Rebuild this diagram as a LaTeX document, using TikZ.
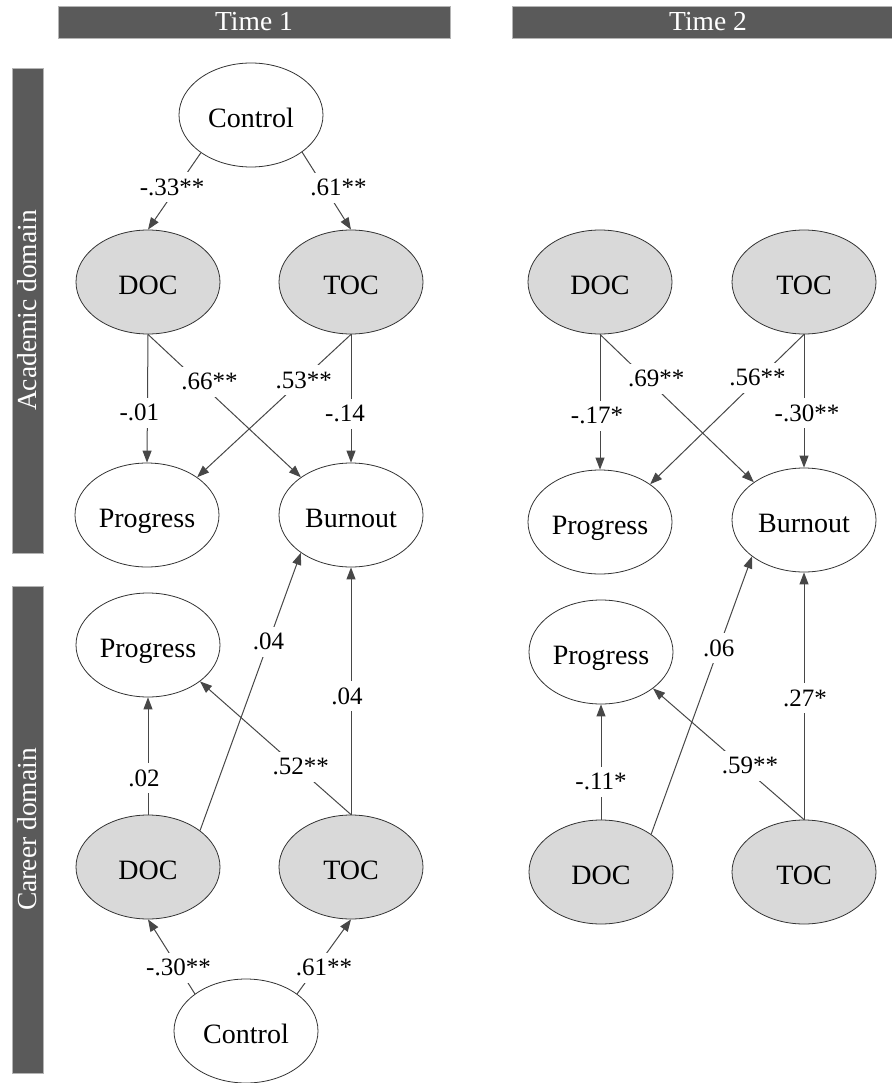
\documentclass[tikz,border=0pt]{standalone}
\usepackage{fontspec}
\setmainfont{Liberation Serif}
\usetikzlibrary{arrows.meta,shapes.geometric}
\definecolor{barfill}{HTML}{5A5A5A}
\definecolor{barline}{HTML}{B4B4B4}
\definecolor{latent}{HTML}{D9D9D9}
\definecolor{edgegray}{HTML}{474747}
\definecolor{rim}{HTML}{333333}
\begin{document}
\begin{tikzpicture}[x=1pt,y=-1pt,
  varbase/.style={ellipse, draw=rim, line width=0.8pt, minimum width=144pt,
    minimum height=104pt, inner sep=0pt, text height=25pt, text depth=0pt,
    font=\fontsize{28}{32}\selectfont},
  obsvar/.style={varbase, fill=white},
  latvar/.style={varbase, fill=latent},
  link/.style={draw=edgegray, line width=1pt, -{Triangle[length=12pt,width=9pt]}},
  coef/.style={fill=white, inner xsep=2pt, inner ysep=0pt, minimum height=30pt,
    font=\fontsize{25}{28}\selectfont},
  band/.style={fill=barfill, draw=barline, line width=0.8pt, text=white,
    inner sep=0pt, font=\fontsize{27.5}{30}\selectfont}
]
\useasboundingbox (0,0) rectangle (891,1083);

% column and row headers
\node[band, minimum width=392pt, minimum height=32pt] (head1) at (254,22) {Time 1};
\node[band, minimum width=392pt, minimum height=32pt] (head2) at (708,22) {Time 2};
\node[band, rotate=90, minimum width=485pt, minimum height=31pt] (rowacad) at (27.5,310.5) {Academic domain};
\node[band, rotate=90, minimum width=487pt, minimum height=31pt] (rowcar) at (27.5,829.5) {Career domain};

% Time 1, academic domain
\node[obsvar] (a1ctl) at (251,115) {Control};
\node[latvar] (a1doc) at (148,282) {DOC};
\node[latvar] (a1toc) at (351,282) {TOC};
\node[obsvar] (a1prog) at (147,515) {Progress};
\node[obsvar] (a1bur) at (351,515) {Burnout};

% Time 1, career domain
\node[obsvar] (c1prog) at (148,645) {Progress};
\node[latvar] (c1doc) at (148,867) {DOC};
\node[latvar] (c1toc) at (351,867) {TOC};
\node[obsvar] (c1ctl) at (246,1031) {Control};

% Time 2, academic domain
\node[latvar] (a2doc) at (600,282) {DOC};
\node[latvar] (a2toc) at (804,282) {TOC};
\node[obsvar] (a2prog) at (600,522) {Progress};
\node[obsvar] (a2bur) at (804,520) {Burnout};

% Time 2, career domain
\node[obsvar] (c2prog) at (601,652) {Progress};
\node[latvar] (c2doc) at (601,872) {DOC};
\node[latvar] (c2toc) at (804,872) {TOC};

% paths, Time 1 academic
\draw[link] (a1ctl.217) -- node[coef, pos=.45, xshift=-5pt] {-.33**} (a1doc.north);
\draw[link] (a1ctl.324) -- node[coef, pos=.46, xshift=14pt] {.61**} (a1toc.north);
\draw[link] (a1doc.south) -- node[coef, pos=.61, xshift=-8pt] {-.01} (a1prog.north);
\draw[link] (a1doc.south) -- node[coef, pos=.33, xshift=11pt] {.66**} (a1bur.143);
\draw[link] (a1toc.south) -- node[coef, pos=.32, xshift=2pt] {.53**} (a1prog.37);
\draw[link] (a1toc.south) -- node[coef, pos=.62, xshift=-6pt] {-.14} (a1bur.north);

% paths, Time 1 career
\draw[link] (c1doc.north) -- node[coef, pos=.31, xshift=-4pt] {.02} (c1prog.south);
\draw[link] (c1doc.35) -- node[coef, pos=.68] {.04} (a1bur.217);
\draw[link] (c1toc.north) -- node[coef, pos=.36, xshift=4pt] {.52**} (c1prog.325);
\draw[link] (c1toc.north) -- node[coef, pos=.48, xshift=-4pt] {.04} (a1bur.south);
\draw[link] (c1ctl.144) -- node[coef, pos=.35] {-.30**} (c1doc.south);
\draw[link] (c1ctl.36) -- node[coef, pos=.35, xshift=8pt] {.61**} (c1toc.south);

% paths, Time 2 academic
\draw[link] (a2doc.south) -- node[coef, pos=.6, xshift=-3pt] {-.17*} (a2prog.north);
\draw[link] (a2doc.south) -- node[coef, pos=.3, xshift=10pt] {.69**} (a2bur.143);
\draw[link] (a2toc.south) -- node[coef, pos=.29, xshift=-2pt] {.56**} (a2prog.37);
\draw[link] (a2toc.south) -- node[coef, pos=.59, xshift=3pt] {-.30**} (a2bur.north);

% paths, Time 2 career
\draw[link] (c2doc.north) -- node[coef, pos=.33] {-.11*} (c2prog.south);
\draw[link] (c2doc.37) -- node[coef, pos=.67] {.06} (a2bur.215);
\draw[link] (c2toc.north) -- node[coef, pos=.41, xshift=8pt] {.59**} (c2prog.325);
\draw[link] (c2toc.north) -- node[coef, pos=.49, xshift=1pt] {.27*} (a2bur.south);
\end{tikzpicture}
\end{document}
